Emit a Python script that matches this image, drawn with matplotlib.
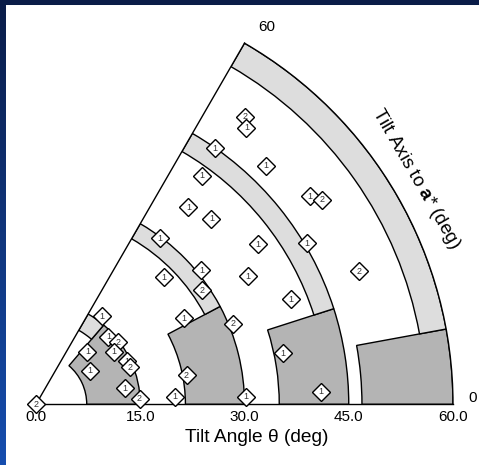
import numpy as np
import matplotlib
matplotlib.use('Agg')
import matplotlib.pyplot as plt

plt.rcParams['font.family'] = ['Liberation Sans', 'DejaVu Sans']
plt.rcParams['mathtext.fontset'] = 'custom'
plt.rcParams['mathtext.rm'] = 'Liberation Sans'
plt.rcParams['mathtext.bf'] = 'Liberation Sans:bold'

# ---------------- data ----------------
# tilt angle theta (deg) -> radius ; tilt axis to a* (deg) -> polar angle
tilt_angle = [0.0, 15.86, 14.26, 14.85, 13.51, 10.56, 9.07, 14.50, 14.55, 13.01,
              14.92, 20.03, 22.06, 24.63, 25.98, 29.81, 30.62, 28.96, 30.61, 30.24,
              35.59, 39.40, 36.72, 35.86, 40.61, 44.95, 47.65, 51.12, 49.98, 49.48,
              50.63, 45.32, 39.70, 36.30, 41.05, 50.27]
tilt_axis = [0.0, 53.2, 43.0, 37.1, 33.9, 45.5, 31.9, 25.4, 21.6, 10.2,
             3.2, 3.2, 11.0, 30.2, 44.8, 53.2, 39.0, 34.6, 22.2, 2.0,
             31.2, 35.8, 46.6, 52.3, 54.0, 55.0, 46.1, 54.0, 52.7, 37.2,
             35.5, 30.7, 22.4, 11.7, 2.5, 22.4]
counts = ['2', '1', '1', '2', '1', '1', '1', '1', '2', '1',
          '2', '1', '2', '1', '1', '1', '1', '2', '2', '1',
          '1', '1', '1', '1', '1', '1', '1', '2', '1', '1',
          '2', '1', '1', '1', '1', '2']

# shaded regions per tilt-angle range
region_inner = [7.3, 21.5, 35.0, 46.9]      # inner radius of dark region
region_outer = [15.0, 30.0, 45.0, 60.0]     # outer radius
region_axis_max = [49.5, 28.0, 17.8, 10.4]  # upper tilt-axis limit of dark region
band_inner = [12.3, 27.5, 42.0, 56.1]       # inner radius of light band

radial_ticks = [0, 15, 30, 45, 60]
radial_ticklabels = ['0.0', '15.0', '30.0', '45.0', '60.0']
angle_ticks = [0, 60]
angle_ticklabels = ['0', '60']

# ---------------- figure ----------------
W, H = 479, 465
fig = plt.figure(figsize=(W / 100, H / 100), dpi=100)

# background: white panel with navy/blue frame on top and left
img = np.ones((H, W, 3))
border = 6
top_col = np.array([10, 28, 72]) / 255
bot_col = np.array([22, 78, 175]) / 255
t = np.linspace(0, 1, H)[:, None]
left = top_col * (1 - t) + bot_col * t
img[:, :border, :] = left[:, None, :]
img[:border, :, :] = top_col
bg = fig.add_axes([0, 0, 1, 1])
bg.imshow(img, aspect='auto', extent=[0, 1, 0, 1], interpolation='bilinear')
bg.axis('off')

# polar axes: square box, the 60-degree wedge is centred vertically in it
ox, oy, scale = 36.0, 404.3, 6.95
side = 60 * scale
margin = (1 - np.sin(np.pi / 3)) / 2 * side
ax = fig.add_axes([ox / W, (H - oy - margin) / H, side / W, side / H], projection='polar')
ax.set_thetamin(0)
ax.set_thetamax(60)
ax.set_rlim(0, 60)
ax.grid(False)
ax.set_xticks([])
ax.set_yticks([])
ax.set_facecolor('white')
for sp in ax.spines.values():
    sp.set_linewidth(1.0)
    sp.set_color('black')

dark = '#b4b4b4'
light = '#dddddd'
for ri, ro, amax, bi in zip(region_inner, region_outer, region_axis_max, band_inner):
    ax.bar(0, ro - ri, width=np.radians(amax), bottom=ri, align='edge',
           color=dark, edgecolor='black', linewidth=1.0, zorder=2)
    ax.bar(np.radians(amax), ro - bi, width=np.radians(60 - amax), bottom=bi, align='edge',
           color=light, edgecolor='black', linewidth=1.0, zorder=2)

for i, (r, a, c) in enumerate(zip(tilt_angle, tilt_axis, counts)):
    th = np.radians(a)
    ax.plot([th], [r], marker='D', ms=8.7, mfc='white', mec='black', mew=1.0,
            linestyle='none', clip_on=False, zorder=10 + 2 * i)
    ax.text(th, r, c, ha='center', va='center', fontsize=6.5, color='#333333',
            zorder=11 + 2 * i, clip_on=False)

for rt, lab in zip(radial_ticks, radial_ticklabels):
    ax.annotate(lab, xy=(0, rt), xytext=(0, -9.1), textcoords='offset points',
                ha='center', va='center', fontsize=11, annotation_clip=False)

ax.annotate(angle_ticklabels[1], xy=(np.radians(angle_ticks[1]), 60), xytext=(15.8, 11.5),
            textcoords='offset points', ha='center', va='center', fontsize=11,
            annotation_clip=False)
ax.annotate(angle_ticklabels[0], xy=(np.radians(angle_ticks[0]), 60), xytext=(14.4, 4.3),
            textcoords='offset points', ha='center', va='center', fontsize=11,
            annotation_clip=False)

fig.text(257 / W, 1 - 437 / H, 'Tilt Angle θ (deg)', ha='center', va='center', fontsize=13.8)
fig.text(416 / W, 1 - 179 / H, r'Tilt Axis to $\mathbf{a}$* (deg)', ha='center', va='center',
         fontsize=13.5, rotation=-60, rotation_mode='anchor')

fig.savefig('out.png', dpi=100)
